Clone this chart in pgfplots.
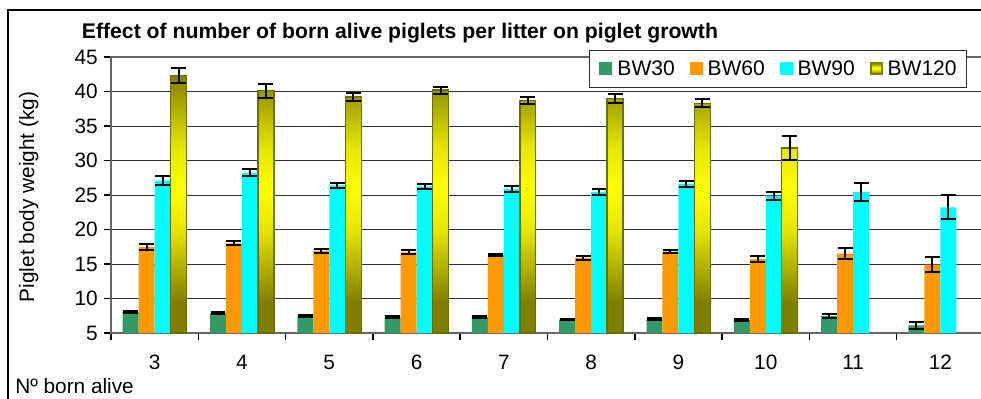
\documentclass[border=0pt]{standalone}
\usepackage{fontspec}
\setmainfont{Liberation Sans}
\usepackage{pgfplots}
\usepackage{pgfplotstable}
\pgfplotsset{compat=1.18}
\definecolor{cgreen}{RGB}{51,153,102}
\definecolor{corange}{RGB}{255,153,0}
\definecolor{ccyan}{RGB}{0,255,255}
\definecolor{colive}{RGB}{128,128,0}
\definecolor{cyellow}{RGB}{255,255,0}
\pgfdeclareverticalshading{olivebar}{100bp}{color(0bp)=(colive); color(31bp)=(colive); color(45bp)=(cyellow!80!colive); color(53bp)=(cyellow); color(61bp)=(cyellow!80!colive); color(75bp)=(colive); color(100bp)=(colive)}

\pgfplotstableread{
x y e
0 8.05 0.2
1 7.9 0.15
2 7.4 0.15
3 7.3 0.15
4 7.3 0.15
5 6.95 0.12
6 7.0 0.12
7 6.85 0.15
8 7.45 0.3
9 6.1 0.45
}\bwA
\pgfplotstableread{
x y e
0 17.5 0.4
1 18.0 0.3
2 16.9 0.25
3 16.7 0.3
4 16.3 0.2
5 15.9 0.25
6 16.8 0.25
7 15.7 0.45
8 16.5 0.75
9 14.9 1.1
}\bwB
\pgfplotstableread{
x y e
0 27.1 0.6
1 28.2 0.5
2 26.4 0.4
3 26.25 0.35
4 25.85 0.4
5 25.45 0.45
6 26.6 0.5
7 24.9 0.6
8 25.45 1.25
9 23.2 1.75
}\bwC
\pgfplotstableread{
x y e
0 42.3 1.1
1 40.1 1.0
2 39.2 0.6
3 40.2 0.5
4 38.7 0.55
5 39.0 0.7
6 38.3 0.6
7 31.8 1.7
}\bwD

\newcommand{\fs}{\fontsize{15.6}{18}\selectfont}
\newcommand{\fl}{\fontsize{15.8}{18}\selectfont}

\begin{document}
\begin{tikzpicture}
\useasboundingbox (0pt,0pt) rectangle (735.75pt,-299.25pt);
\begin{axis}[
  at={(83.25pt,-249.75pt)}, anchor=south west,
  scale only axis, width=654.75pt, height=207pt,
  xmin=-0.5, xmax=9.5, ymin=5, ymax=45,
  ybar=0pt, bar width=0.183,
  xtick={-0.5,0.5,...,9.5}, xticklabels={},
  extra x ticks={0,1,...,9},
  extra x tick labels={3,4,5,6,7,8,9,10,11,12},
  extra x tick style={major tick length=0pt, tick style={draw=none}},
  ytick={5,10,...,45},
  ymajorgrids, grid style={black!80, line width=0.75pt},
  xtick pos=bottom, ytick pos=left,
  tick align=outside,
  major tick length=5.25pt,
  tick style={black, line width=1.1pt},
  axis line style={black!60, line width=1.1pt},
  /pgf/number format/assume math mode=true,
  tick label style={font=\fs},
  xticklabel style={anchor=base, inner sep=0pt, yshift=-27.5pt},
  yticklabel style={anchor=east, inner sep=0pt, xshift=-4.5pt},
  legend columns=4,
  legend style={at={(axis description cs:0.5475,1.0254)}, anchor=north west,
    draw=black!80, line width=0.75pt, fill=white, font=\fl,
    inner xsep=7.5pt, inner ysep=7.5pt,
    nodes={inner sep=0pt},
    /tikz/every odd column/.append style={column sep=3.75pt},
    /tikz/every even column/.append style={column sep=11pt}},
  error bars/y dir=both, error bars/y explicit,
  error bars/error mark=|,
  error bars/error mark options={black, line width=1.5pt, mark size=5.6pt},
  error bars/error bar style={black, line width=1.5pt},
]
\addplot[fill=cgreen, draw=none,
  legend image code/.code={\fill[cgreen] (0pt,-4.875pt) rectangle (9.75pt,4.875pt);}]
  table[x=x, y=y, y error=e] {\bwA};
\addplot[fill=corange, draw=none,
  legend image code/.code={\fill[corange] (0pt,-4.875pt) rectangle (9.75pt,4.875pt);}]
  table[x=x, y=y, y error=e] {\bwB};
\addplot[fill=ccyan, draw=none,
  legend image code/.code={\fill[ccyan] (0pt,-4.875pt) rectangle (9.75pt,4.875pt);}]
  table[x=x, y=y, y error=e] {\bwC};
\addplot[shading=olivebar, draw=colive!85!black, line width=1pt,
  legend image code/.code={\filldraw[fill=cyellow!85!colive, draw=colive, line width=1.5pt] (0.75pt,-4.125pt) rectangle (9pt,4.125pt);}]
  table[x=x, y=y, y error=e] {\bwD};
\legend{BW30,BW60,BW90,BW120}
\end{axis}
\draw[black, line width=1.2pt] (6.2pt,-305pt) -- (6.2pt,-7.5pt) -- (745pt,-7.5pt);
\node[anchor=base west, inner sep=0pt, font=\fontsize{15.9}{18}\selectfont\bfseries] at (61.25pt,-29.25pt)
  {Effect of number of born alive piglets per litter on piglet growth};
\node[rotate=90, inner sep=0pt, font=\fs] at (21.5pt,-147.75pt) {Piglet body weight (kg)};
\node[anchor=base west, inner sep=0pt, font=\fs] at (11.25pt,-294.75pt) {Nº born alive};
\end{tikzpicture}
\end{document}
